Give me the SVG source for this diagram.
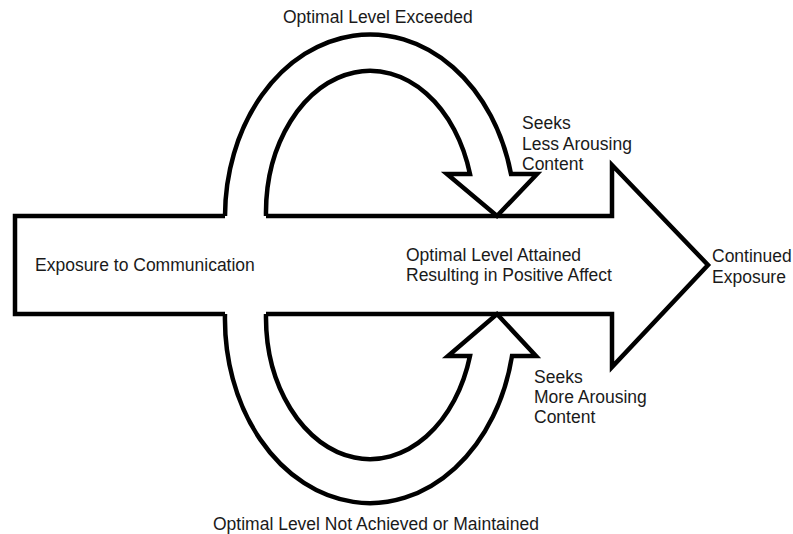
<svg xmlns="http://www.w3.org/2000/svg" width="793" height="534" viewBox="0 0 793 534">
  <style>
    .outline { fill: none; stroke: #000; stroke-width: 4.5; stroke-linejoin: miter; stroke-miterlimit: 10; }
    .label { font-family: "Liberation Sans", Arial, sans-serif; font-size: 17.5px; fill: #1a1a1a; }
  </style>
  <rect width="793" height="534" fill="#fff"/>

  <g id="connectors">
    <!-- main flow arrow; its top and bottom edges open where the loops join -->
    <g id="main-flow">
      <path class="outline" d="M225,216 L15,216 L15,314 L225,314 M266,314 L612,314 L612,367 L708,265 L612,165 L612,216 L266,216"/>
    </g>
    <!-- upper loop: level exceeded, returns with a downward head -->
    <g id="loop-exceeded">
      <path class="outline" d="M225,216 A145,182 0 0 1 511,174 L537,174 L497,216 L447,174 L470,174 A104,142 0 0 0 266,216"/>
    </g>
    <!-- lower loop: level not achieved, returns with an upward head -->
    <g id="loop-not-achieved">
      <path class="outline" d="M225,314 A145,184 0 0 0 512,356 L536,356 L497,314 L448,356 L470,356 A104,142 0 0 1 266,314"/>
    </g>
  </g>

  <g id="node-exposure">
    <text class="label" x="35" y="271">Exposure to Communication</text>
  </g>
  <g id="node-attained">
    <text class="label" x="406" y="261">Optimal Level Attained</text>
    <text class="label" x="406" y="281">Resulting in Positive Affect</text>
  </g>
  <g id="node-continued">
    <text class="label" x="712" y="262">Continued</text>
    <text class="label" x="712" y="283">Exposure</text>
  </g>
  <g id="node-exceeded">
    <text class="label" x="283" y="23">Optimal Level Exceeded</text>
  </g>
  <g id="node-less">
    <text class="label" x="522" y="129">Seeks</text>
    <text class="label" x="522" y="150">Less Arousing</text>
    <text class="label" x="522" y="170">Content</text>
  </g>
  <g id="node-more">
    <text class="label" x="534" y="383">Seeks</text>
    <text class="label" x="534" y="403">More Arousing</text>
    <text class="label" x="534" y="423">Content</text>
  </g>
  <g id="node-not-achieved">
    <text class="label" x="213" y="530">Optimal Level Not Achieved or Maintained</text>
  </g>
</svg>
